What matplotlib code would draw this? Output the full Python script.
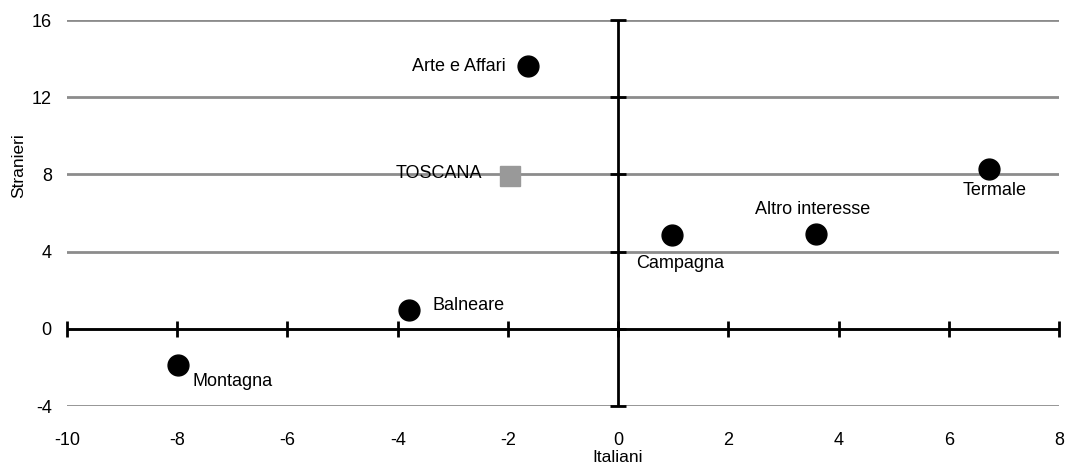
import matplotlib.pyplot as plt

plt.rcParams['font.family'] = ['Liberation Sans', 'DejaVu Sans']
plt.rcParams['axes.unicode_minus'] = False

# data
names = ["Arte e Affari", "Termale", "Altro interesse", "Campagna", "Balneare", "Montagna"]
italiani = [-1.63, 6.73, 3.59, 0.98, -3.79, -7.99]
stranieri = [13.6, 8.3, 4.9, 4.85, 1.0, -1.87]
tosc_x, tosc_y = -1.96, 7.9

xticks = [-10, -8, -6, -4, -2, 0, 2, 4, 6, 8]
yticks = [-4, 0, 4, 8, 12, 16]

# label offsets in pixels, with alignment
offsets = {
    "Arte e Affari": (-23, 0, "right", "center"),
    "Termale": (6, -22, "center", "center"),
    "Altro interesse": (-3, 25, "center", "center"),
    "Campagna": (8, -28, "center", "center"),
    "Balneare": (23, 4, "left", "center"),
    "Montagna": (15, -17, "left", "center"),
}

fig = plt.figure(figsize=(10.66, 4.71), dpi=100)
ax = fig.add_axes([0.0629, 0.138, 0.9305, 0.8195])
ax.set_xlim(-10, 8)
ax.set_ylim(-4, 16)

for s in ax.spines.values():
    s.set_visible(False)

ax.set_yticks(yticks)
ax.set_xticks(xticks)
ax.tick_params(axis="x", length=0, labelsize=13, pad=19)
ax.tick_params(axis="y", length=0, labelsize=13, pad=11)
ax.yaxis.grid(True, color="#8c8c8c", linewidth=2)
ax.set_axisbelow(True)

# zero axes with crossing ticks
ax.axhline(0, color="black", linewidth=2, zorder=2)
ax.axvline(0, color="black", linewidth=2, zorder=2)
ax.plot(xticks, [0] * len(xticks), linestyle="none", marker="|", markersize=12,
        markeredgewidth=2, color="black", zorder=2, clip_on=False)
ax.plot([0] * len(yticks), yticks, linestyle="none", marker="_", markersize=12,
        markeredgewidth=2, color="black", zorder=2, clip_on=False)

ax.plot(italiani, stranieri, linestyle="none", marker="o", markersize=15,
        color="black", zorder=3)
ax.plot([tosc_x], [tosc_y], linestyle="none", marker="s", markersize=14,
        color="#999999", zorder=3)

for n, x, y in zip(names, italiani, stranieri):
    dx, dy, ha, va = offsets[n]
    ax.annotate(n, (x, y), xytext=(dx, dy), textcoords="offset pixels",
                ha=ha, va=va, fontsize=13)
ax.annotate("TOSCANA", (tosc_x, tosc_y), xytext=(-28, 3), textcoords="offset pixels",
            ha="right", va="center", fontsize=13)

# axis titles sit under / beside the zero lines, not centred
ax.set_xlabel("Italiani", fontsize=12.5)
ax.xaxis.set_label_coords(0.555, -0.115)
ax.set_ylabel("Stranieri", fontsize=12.5, va="center")
ax.yaxis.set_label_coords(-0.049, 0.624)

fig.savefig("out.png", dpi=100)
